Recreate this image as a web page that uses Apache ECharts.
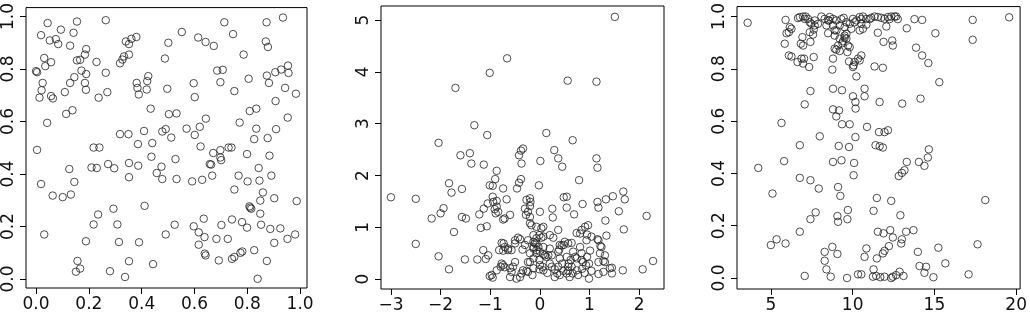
<!DOCTYPE html>
<html>
<head>
<meta charset="utf-8">
<script src="https://cdn.jsdelivr.net/npm/echarts@6/dist/echarts.min.js"></script>
<style>
html,body{margin:0;padding:0;background:#fff;}
#chart{width:1030px;height:321px;}
</style>
</head>
<body>
<div id="chart"></div>
<script>
// ---- Panel 1: uniform(0,1) vs uniform(0,1) ----
const p1Pts = [
[0.044,0.975],[0.019,0.929],[0.094,0.950],[0.155,0.981],[0.142,0.938],[0.052,0.909],[0.075,0.914],[0.084,0.895],[0.129,0.889],[0.264,0.986],
[0.190,0.876],[0.185,0.855],[0.155,0.833],[0.167,0.835],[0.031,0.842],[0.057,0.826],[0.035,0.811],[0.000,0.792],[0.004,0.788],[0.025,0.747],
[0.021,0.719],[0.013,0.691],[0.057,0.697],[0.064,0.688],[0.109,0.712],[0.129,0.747],[0.145,0.769],[0.172,0.794],[0.190,0.781],[0.185,0.747],
[0.189,0.721],[0.229,0.827],[0.264,0.786],[0.237,0.691],[0.270,0.712],[0.114,0.629],[0.138,0.643],[0.042,0.595],[0.004,0.492],[0.218,0.501],
[0.240,0.501],[0.318,0.822],[0.327,0.836],[0.333,0.848],[0.352,0.855],[0.340,0.905],[0.352,0.895],[0.361,0.915],[0.380,0.922],[0.381,0.747],
[0.384,0.728],[0.389,0.703],[0.419,0.722],[0.421,0.754],[0.425,0.773],[0.434,0.649],[0.318,0.552],[0.350,0.552],[0.409,0.564],[0.386,0.514],
[0.440,0.518],[0.478,0.562],[0.491,0.571],[0.501,0.900],[0.488,0.840],[0.497,0.725],[0.503,0.628],[0.437,0.466],[0.713,0.978],[0.873,0.978],
[0.935,0.996],[0.552,0.941],[0.614,0.920],[0.642,0.903],[0.673,0.888],[0.746,0.933],[0.870,0.905],[0.878,0.884],[0.786,0.855],[0.686,0.794],
[0.707,0.797],[0.698,0.750],[0.805,0.763],[0.874,0.775],[0.882,0.747],[0.906,0.788],[0.928,0.798],[0.954,0.813],[0.956,0.785],[0.943,0.728],
[0.984,0.706],[0.751,0.716],[0.597,0.746],[0.601,0.693],[0.907,0.678],[0.532,0.631],[0.809,0.640],[0.834,0.649],[0.643,0.611],[0.771,0.596],
[0.953,0.615],[0.570,0.573],[0.620,0.580],[0.601,0.549],[0.512,0.539],[0.834,0.573],[0.909,0.571],[0.826,0.533],[0.877,0.537],[0.623,0.505],
[0.671,0.480],[0.698,0.491],[0.729,0.501],[0.740,0.501],[0.799,0.476],[0.884,0.470],[0.528,0.457],[0.698,0.463],[0.210,0.425],[0.230,0.423],
[0.126,0.419],[0.273,0.438],[0.296,0.422],[0.352,0.442],[0.387,0.432],[0.475,0.428],[0.457,0.404],[0.478,0.381],[0.352,0.388],[0.019,0.362],
[0.145,0.370],[0.063,0.318],[0.101,0.312],[0.132,0.322],[0.293,0.268],[0.411,0.279],[0.235,0.246],[0.218,0.208],[0.308,0.208],[0.031,0.170],
[0.189,0.144],[0.314,0.141],[0.390,0.140],[0.491,0.170],[0.157,0.069],[0.151,0.028],[0.167,0.040],[0.280,0.030],[0.352,0.068],[0.337,0.008],
[0.443,0.057],[0.532,0.381],[0.591,0.372],[0.629,0.378],[0.667,0.394],[0.658,0.438],[0.663,0.436],[0.701,0.453],[0.843,0.423],[0.891,0.394],
[0.767,0.394],[0.801,0.372],[0.846,0.375],[0.751,0.341],[0.859,0.330],[0.849,0.299],[0.902,0.308],[0.987,0.297],[0.808,0.277],[0.811,0.272],
[0.815,0.268],[0.849,0.249],[0.635,0.230],[0.525,0.207],[0.597,0.201],[0.616,0.178],[0.638,0.160],[0.683,0.153],[0.726,0.153],[0.702,0.206],
[0.742,0.227],[0.780,0.217],[0.799,0.196],[0.852,0.207],[0.887,0.191],[0.925,0.193],[0.981,0.170],[0.952,0.153],[0.902,0.138],[0.616,0.131],
[0.639,0.097],[0.642,0.090],[0.692,0.071],[0.742,0.077],[0.751,0.084],[0.774,0.100],[0.781,0.105],[0.826,0.110],[0.874,0.069],[0.839,0.001]
];
const p1XTicks = [0, 0.2, 0.4, 0.6, 0.8, 1.0];
const p1YTicks = [0, 0.2, 0.4, 0.6, 0.8, 1.0];

// ---- Panel 2 ----
const p2Pts = [
[-3.00,1.58],[-2.50,1.55],[-2.50,0.68],[-2.04,2.63],[-1.70,3.69],[-1.01,3.98],[-1.32,2.97],[-1.06,2.78],[-1.60,2.39],[-1.41,2.43],
[-1.38,2.23],[-1.13,2.21],[-0.87,2.09],[-0.90,1.93],[-1.01,1.81],[-0.95,1.80],[-0.74,1.75],[-1.83,1.85],[-1.78,1.67],[-1.57,1.74],
[-1.94,1.37],[-2.00,1.27],[-2.18,1.17],[-1.57,1.20],[-1.49,1.17],[-1.73,0.91],[-1.22,1.25],[-1.13,1.36],[-1.05,1.46],[-0.95,1.59],
[-0.87,1.51],[-0.89,1.27],[-0.91,1.35],[-0.71,1.17],[-0.67,1.54],[-1.19,0.99],[-1.07,1.02],[-2.04,0.44],[-1.83,0.19],[-1.51,0.38],
[-1.26,0.38],[-1.14,0.56],[-1.09,0.39],[-1.04,0.46],[-0.77,0.70],[-0.73,0.69],[-0.82,0.56],[-0.74,0.55],[-1.01,0.06],[-0.97,0.08],
[-0.87,0.17],[-0.79,0.24],[-0.74,0.27],[-0.60,0.04],[-0.66,4.26],
[1.51,5.06],[0.56,3.83],[1.14,3.81],[0.13,2.82],[0.66,2.68],[-0.34,2.52],[-0.38,2.48],[-0.42,2.39],[-0.37,2.23],[0.29,2.49],
[0.37,2.33],[0.45,2.17],[0.01,2.28],[1.14,2.33],[1.16,2.15],[0.79,1.91],[-0.02,1.81],[-0.38,1.93],[-0.42,1.86],[-0.46,1.75],
[-0.60,1.24],[-0.19,1.49],[-0.20,1.41],[-0.30,1.36],[-0.28,1.24],[-0.24,1.30],[0.00,1.30],[-0.17,1.04],[0.25,1.36],[0.26,1.19],
[0.48,1.58],[0.54,1.59],[0.54,1.38],[0.69,1.25],[0.86,1.45],[1.16,1.49],[1.18,1.38],[1.33,1.54],[1.47,1.60],[1.68,1.69],
[1.71,1.54],[1.59,1.31],[2.15,1.22],[1.32,1.13],[1.69,0.96],[1.34,0.84],[2.28,0.35],[2.07,0.19],[1.67,0.17],[1.45,0.22],
[1.28,0.35],[1.21,0.50],[1.22,0.64],[1.16,0.77],[0.97,1.04],[0.91,1.01],[0.95,0.86],[0.84,0.95],[0.74,0.89],[0.94,0.75],
[0.81,0.62],[1.01,0.55],[0.95,0.43],[0.87,0.33],[0.99,0.30],[0.93,0.27],[0.84,0.37],[1.04,0.16],[0.99,0.01],[1.18,0.10],
[0.74,0.17],[0.66,0.11],[0.77,0.08],[0.57,0.16],[0.37,0.24],[0.30,0.19],[0.35,0.11],[0.40,0.08],[0.47,0.16],[0.24,0.24],
[0.05,0.24],[-0.01,0.19],[-0.15,0.08],[-0.27,0.16],[-0.40,0.04],[-0.37,0.11],[-0.54,0.24],[-0.50,0.33],[-0.24,0.33],[-0.01,0.37],
[0.10,0.46],[0.24,0.46],[0.39,0.57],[0.44,0.65],[0.48,0.66],[0.57,0.69],[0.64,0.70],[0.37,0.95],[0.27,0.80],[0.20,0.85],
[0.03,0.98],[0.07,1.01],[-0.01,0.85],[-0.07,0.79],[0.03,0.80],[-0.13,0.72],[-0.24,0.75],[-0.30,0.66],[-0.35,0.57],[-0.44,0.80],
[-0.40,0.77],[-0.50,0.75],[-0.71,0.62],[-0.64,0.56],[-0.13,0.59],[-0.03,0.62],[0.00,0.53],[0.07,0.48],[0.40,0.40],[0.54,0.43],
[0.62,0.37],[0.84,0.50],[0.71,0.43],[0.57,0.24],
[-0.95,0.03],[-0.77,0.30],[-0.71,0.23],[-0.60,0.21],[-0.57,0.14],[-0.47,0.01],[-0.34,0.17],[-0.20,0.33],[-0.13,0.21],[-0.24,0.14],
[-0.64,0.59],[-0.57,0.56],[-0.50,0.69],[-0.10,0.69],[-0.07,0.50],[-0.94,1.49],[-0.87,1.40],[-0.84,1.30],[-0.74,1.15],[-0.27,1.53],
[-0.20,1.56],[-0.20,1.20],[-0.20,1.08],[0.81,0.88],[1.04,0.82],[1.18,0.75],[1.24,0.62],[1.31,0.46],[1.18,0.33],[1.31,0.33],
[1.41,0.21],[1.45,0.11],[1.28,0.14],[0.67,0.53],[0.74,0.40],[0.64,0.24],[0.54,0.11],[-0.20,0.50],[-0.13,0.40],[-0.07,0.56],
[0.07,0.62],[0.13,0.43],[0.00,0.27],[0.07,0.17],[-0.07,1.01],[-0.13,0.85],[0.07,0.82],[0.40,0.66],[0.50,0.72],[0.20,0.59],
[0.37,0.53],[0.17,0.46],[-0.07,0.69],[-0.13,0.62],[0.20,0.30],[0.45,0.30],[0.58,0.30],[0.85,0.20],[0.90,0.12],[0.60,0.04],
[0.30,0.04],[0.15,0.12]
];
const p2XTicks = [-3, -2, -1, 0, 1, 2];
const p2YTicks = [0, 1, 2, 3, 4, 5];

// ---- Panel 3 ----
const p3Pts = [
[3.58,0.976],[4.23,0.421],[5.10,0.323],[5.00,0.126],[5.35,0.148],[5.90,0.132],[5.65,0.593],[5.81,0.447],[6.77,0.508],[6.77,0.383],
[6.77,0.177],[7.07,0.008],[7.07,0.664],[7.42,0.715],[7.42,0.374],[7.42,0.225],[7.74,0.251],[7.93,0.342],[7.99,0.542],
[5.90,0.987],[5.96,0.936],[6.10,0.940],[6.26,0.953],[5.85,0.896],[6.10,0.851],[6.26,0.847],[6.63,0.826],[6.83,0.896],[6.93,0.921],
[7.03,0.839],[7.34,0.807],[7.42,0.903],[7.58,0.931],[7.62,0.845],[7.62,0.950],
[6.77,0.998],[6.97,1.000],[7.13,1.000],[7.27,0.991],[7.38,0.978],[7.48,0.972],[7.68,0.966],[7.88,0.972],[8.09,1.000],[8.29,0.991],
[8.40,0.966],[8.56,0.985],[8.80,0.991],[9.00,0.985],[9.21,0.966],[9.45,0.995],[9.62,0.978],[9.82,0.972],[10.02,0.991],[10.23,0.985],
[8.50,0.936],[8.90,0.947],[9.00,0.873],[9.21,0.868],[9.37,0.898],[9.51,0.919],[9.62,0.934],[9.68,0.864],[9.82,0.883],[8.80,0.839],
[8.76,0.797],[9.78,0.828],[10.06,0.813],[10.23,0.771],
[8.80,0.724],[9.35,0.718],[10.02,0.695],[10.17,0.673],[10.18,0.648],[8.80,0.645],[9.17,0.641],[9.00,0.618],[9.35,0.588],[9.82,0.588],
[10.17,0.539],[9.15,0.505],[9.78,0.501],[8.80,0.444],[9.32,0.450],[10.09,0.440],[10.06,0.393],[9.11,0.348],[9.25,0.314],[9.07,0.237],
[9.11,0.215],[9.71,0.260],[9.68,0.225],[8.76,0.119],[8.29,0.100],[8.29,0.066],[9.07,0.092],[8.40,0.033],[8.66,0.005],[9.66,0.000],
[10.33,0.014],
[19.57,0.997],[17.34,0.987],[17.34,0.911],[15.06,0.936],[15.30,0.749],[18.11,0.298],[17.64,0.129],[17.09,0.014],[15.67,0.056],[15.24,0.116],
[14.94,0.003],[14.49,0.043],[14.09,0.046],[14.39,0.020],[13.99,0.100],[13.78,0.990],[14.25,0.987],[13.31,0.955],[13.88,0.881],[14.25,0.851],
[14.63,0.822],[14.15,0.686],[13.03,0.667],[11.65,0.673],[11.34,0.809],[11.85,0.804],[11.54,0.938],[11.89,0.903],[12.42,0.908],[12.46,0.889],
[10.53,0.851],[10.43,0.832],[10.73,0.724],[10.73,0.695],[10.88,0.578],[11.61,0.558],[11.95,0.558],[12.16,0.565],[11.40,0.508],[11.65,0.504],
[11.85,0.499],[14.66,0.492],[14.60,0.461],[14.39,0.429],[14.05,0.444],[13.31,0.444],[13.17,0.412],[13.01,0.402],[12.82,0.390],[11.48,0.306],
[12.36,0.295],[11.28,0.257],[12.92,0.240],[11.54,0.177],[11.89,0.171],[12.30,0.183],[12.46,0.155],[13.01,0.148],[12.97,0.132],[13.27,0.177],
[13.72,0.183],[12.22,0.122],[11.95,0.104],[11.85,0.094],[11.48,0.075],[10.84,0.113],[10.73,0.081],[11.28,0.033],[11.24,0.005],[11.44,0.008],
[11.69,0.003],[11.95,0.005],[12.36,0.000],[12.46,0.005],[12.87,0.024],[12.66,0.011],[13.11,0.008],[10.53,0.014],
[10.43,0.998],[10.63,1.000],[10.84,0.991],[11.14,0.995],[11.34,1.000],[11.54,0.998],[11.75,0.995],[11.95,0.991],[12.16,0.998],[12.36,1.000],
[12.56,1.000],[12.66,1.000],[10.84,0.969],[10.63,0.953],[12.06,0.962],
[10.12,0.826],[10.02,0.807],[10.33,0.839],[8.90,0.927],[9.51,0.927],[9.41,0.905],[9.11,0.889],[9.72,0.889],[9.62,0.915],
[8.80,0.966],[9.01,0.947],[9.51,0.959],[10.12,0.978],[10.53,0.972],[10.43,0.947],[9.92,0.953],
[9.31,0.990],[10.53,0.990],[11.04,0.990],[12.26,0.990],[12.76,0.990],
[6.16,0.959],[6.87,0.839],[6.97,0.820],[6.97,0.889],[7.38,0.940],[6.66,0.994],[7.07,0.991],[8.60,0.998],[8.50,0.985],[7.68,0.985],
[8.90,0.877],[9.21,0.915]
];
const p3XTicks = [5, 10, 15, 20];
const p3YTicks = [0, 0.2, 0.4, 0.6, 0.8, 1.0];

// ---- chart ----
const FONT = 'DejaVu Sans';
const minus = v => (v < 0 ? '\u2212' + String(-v) : String(v));
const grids = [
  {left: 25, top: 6, width: 282, height: 282},
  {left: 381, top: 6, width: 283, height: 283},
  {left: 737, top: 6, width: 284, height: 283}
].map(g => Object.assign({show: true, borderColor: '#000', borderWidth: 1, backgroundColor: 'transparent'}, g));

function xAx(idx, min, max, ticks, fmt) {
  return {
    type: 'value', gridIndex: idx, min: min, max: max, position: 'bottom',
    axisLine: {show: false, onZero: false},
    splitLine: {show: false},
    axisTick: {show: true, length: 6, customValues: ticks, lineStyle: {color: '#000', width: 1}},
    axisLabel: {customValues: ticks, formatter: fmt, color: '#111', fontFamily: FONT, fontSize: 17, margin: 8}
  };
}
function yAx(idx, min, max, ticks, fmt) {
  return {
    type: 'value', gridIndex: idx, min: min, max: max, position: 'left',
    axisLine: {show: false, onZero: false},
    splitLine: {show: false},
    axisTick: {show: true, length: 6, customValues: ticks, lineStyle: {color: '#000', width: 1}},
    axisLabel: {customValues: ticks, formatter: fmt, rotate: 90, color: '#111', fontFamily: FONT, fontSize: 17, margin: 9}
  };
}
const f1 = v => v.toFixed(1);
const sStyle = {color: 'rgba(0,0,0,0)', borderColor: '#222', borderWidth: 1};
function sc(idx, data) {
  return {type: 'scatter', xAxisIndex: idx, yAxisIndex: idx, data: data, symbol: 'circle',
          symbolSize: 7.5, itemStyle: sStyle, silent: true, animation: false};
}
const chart = echarts.init(document.getElementById('chart'), null, {renderer: 'canvas'});
chart.setOption({
  animation: false,
  backgroundColor: '#fff',
  grid: grids,
  xAxis: [
    xAx(0, -0.038, 1.026, p1XTicks, f1),
    xAx(1, -3.2, 2.5, p2XTicks, minus),
    xAx(2, 2.93, 20.24, p3XTicks, v => String(v))
  ],
  yAxis: [
    yAx(0, -0.034, 1.034, p1YTicks, f1),
    yAx(1, -0.19, 5.27, p2YTicks, minus),
    yAx(2, -0.042, 1.038, p3YTicks, f1)
  ],
  series: [sc(0, p1Pts), sc(1, p2Pts), sc(2, p3Pts)]
});
</script>
</body>
</html>
